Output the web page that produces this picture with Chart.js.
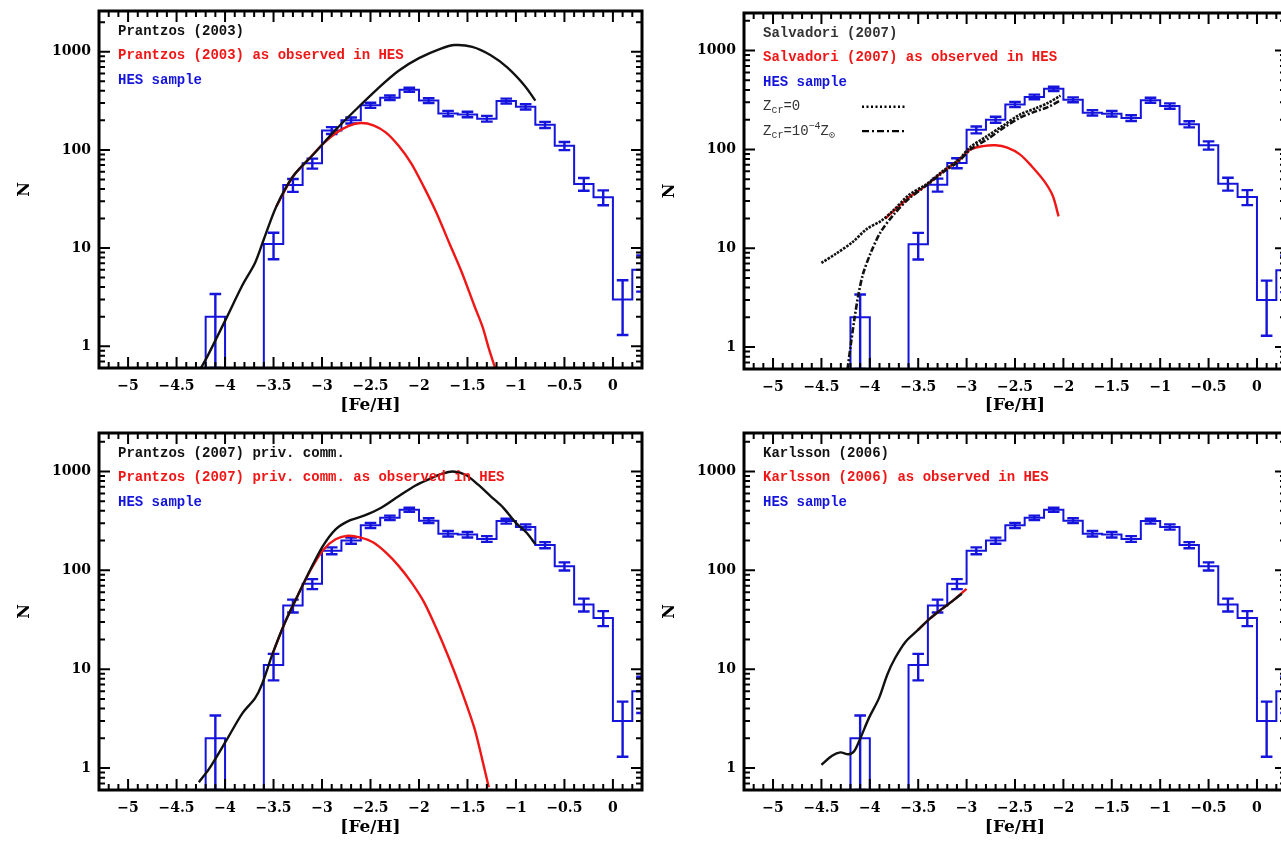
<!DOCTYPE html>
<html>
<head>
<meta charset="utf-8">
<title>HES MDF vs models</title>
<script src="https://cdn.jsdelivr.net/npm/chart.js"></script>
<style>
  html, body { margin: 0; padding: 0; background: #fff; overflow: hidden; }
  canvas { position: absolute; }
</style>
</head>
<body>
<canvas id="pTL" width="646" height="420" style="left:0px;top:0px"></canvas>
<canvas id="pTR" width="646" height="420" style="left:645px;top:0px"></canvas>
<canvas id="pBL" width="646" height="421" style="left:0px;top:420px"></canvas>
<canvas id="pBR" width="646" height="421" style="left:645px;top:420px"></canvas>
<script>
// ---- data ----
// HES sample, 0.2 dex bins (edges)
const hesEdges = [-4.2, -4.0, -3.8, -3.6, -3.4, -3.2, -3.0, -2.8, -2.6, -2.4, -2.2, -2.0,
                  -1.8, -1.6, -1.4, -1.2, -1.0, -0.8, -0.6, -0.4, -0.2, 0.0, 0.2, 0.4];
const hesCounts = [2, 0, 0, 11, 44, 73, 158, 200, 285, 340, 410, 318,
                   235, 230, 208, 315, 275, 180, 110, 45, 33, 3, 6];
const hesErr = [1.4, 0, 0, 3.3, 6.6, 8.5, 12.6, 14, 17, 18, 20, 18,
                15, 15, 14, 18, 17, 13, 10.5, 6.7, 5.7, 1.7, 2.4];

// Prantzos (2003)
const p03Fe = [-4.25, -4.19, -3.99, -3.82, -3.69, -3.60, -3.47, -3.30, -3.08, -2.86, -2.65,
               -2.43, -2.21, -2.00, -1.78, -1.63, -1.45, -1.26, -1.09, -0.91, -0.80];
const p03N = [0.6, 0.76, 1.9, 4.2, 7.1, 12.3, 26.7, 53.6, 92, 160, 258,
              417, 640, 860, 1070, 1170, 1120, 920, 692, 451, 318];
const p03ObsFe = [-3.47, -3.30, -3.15, -2.99, -2.86, -2.73, -2.60, -2.47, -2.34, -2.21,
                  -2.08, -1.95, -1.82, -1.69, -1.56, -1.43, -1.345, -1.28, -1.215];
const p03ObsN = [26.7, 53.6, 78, 115, 148, 175, 188, 178, 150, 110,
                 73, 42, 22.9, 11.4, 5.7, 2.6, 1.58, 0.95, 0.6];

// Salvadori (2007): Zcr = 0 and Zcr = 1e-4 Zsun
const s07zeroFe = [-4.50, -4.35, -4.18, -4.03, -3.88, -3.76, -3.59, -3.42, -3.25,
                   -3.08, -2.96, -2.79, -2.62, -2.45, -2.28, -2.16, -2.03];
const s07zeroN = [7.1, 8.8, 11.5, 15.7, 19, 24, 35, 44, 60,
                  79, 106, 136, 175, 225, 262, 295, 350];
const s07critFe = [-4.23, -4.20, -4.16, -4.12, -4.07, -3.99, -3.89, -3.76, -3.60, -3.42,
                   -3.25, -3.08, -2.96, -2.79, -2.62, -2.45, -2.28, -2.16, -2.04];
const s07critN = [0.6, 1.0, 1.9, 3.3, 5.5, 9, 14.5, 21.5, 31.5, 42.8,
                  58, 76, 100, 126, 165, 209, 244, 268, 310];
const s07ObsFe = [-3.84, -3.59, -3.42, -3.25, -3.08, -2.96, -2.83, -2.70, -2.58,
                  -2.45, -2.33, -2.20, -2.11, -2.05];
const s07ObsN = [20, 33, 43, 59, 78, 100, 108, 110, 104, 89, 68, 48, 34, 21];

// Prantzos (2007) priv. comm.
const p07Fe = [-4.27, -4.165, -3.99, -3.82, -3.69, -3.62, -3.515, -3.38, -3.25, -3.12, -2.99,
               -2.86, -2.73, -2.56, -2.39, -2.21, -2.04, -1.87, -1.76, -1.65, -1.52, -1.39,
               -1.26, -1.13, -1.00, -0.89, -0.80];
const p07N = [0.72, 0.98, 1.88, 3.6, 5.1, 7.0, 13.9, 30, 55.7, 102, 177,
              260, 315, 359, 429, 561, 718, 857, 950, 1000, 926, 735,
              561, 429, 302, 240, 184];
const p07ObsFe = [-3.515, -3.38, -3.25, -3.12, -2.99, -2.86, -2.73, -2.60, -2.47, -2.34,
                  -2.21, -2.08, -1.95, -1.82, -1.69, -1.56, -1.43, -1.345, -1.28];
const p07ObsN = [13.9, 30, 55.7, 100, 160, 206, 224, 214, 191, 151,
                 111, 76, 48, 25.8, 12.9, 6.0, 2.56, 1.19, 0.64];

// Karlsson (2006)
const k06Fe = [-4.50, -4.39, -4.305, -4.22, -4.16, -4.095, -4.01, -3.905, -3.82, -3.74,
               -3.63, -3.505, -3.38, -3.25, -3.125, -3.05];
const k06N = [1.08, 1.33, 1.44, 1.38, 1.49, 2.03, 3.2, 5.1, 8.8, 12.9,
              19, 24.8, 32.5, 41, 50.8, 58];
const k06ObsFe = [-3.505, -3.38, -3.25, -3.125, -3.00];
const k06ObsN = [24.8, 32.5, 41, 50.8, 65];

// axis ticks
const feTicks = [-5, -4.5, -4, -3.5, -3, -2.5, -2, -1.5, -1, -0.5, 0];
const nTicks = [1, 10, 100, 1000];

// ---- styles ----
const INK = '#111';
const RED = '#f01616';
const BLUE = '#1414dc';
const SERIF = '"DejaVu Serif", serif';
const MONO = '"Liberation Mono", monospace';
const FLOOR = 0.1; // empty bins sit below the axis

const legends = {
  pTL: [
    { color: INK, parts: [{ t: 'Prantzos (2003)' }] },
    { color: RED, parts: [{ t: 'Prantzos (2003) as observed in HES' }] },
    { color: BLUE, parts: [{ t: 'HES sample' }] },
  ],
  pTR: [
    { color: '#333', parts: [{ t: 'Salvadori (2007)' }] },
    { color: RED, parts: [{ t: 'Salvadori (2007) as observed in HES' }] },
    { color: BLUE, parts: [{ t: 'HES sample' }] },
    { color: '#333', light: true, dash: [2, 2.5],
      parts: [{ t: 'Z' }, { t: 'cr', sub: true }, { t: '=0' }] },
    { color: '#333', light: true, dash: [7, 3, 2, 3],
      parts: [{ t: 'Z' }, { t: 'cr', sub: true }, { t: '=10' }, { t: '\u22124', sup: true },
              { t: 'Z' }, { t: '\u2299', sub: true }] },
  ],
  pBL: [
    { color: INK, parts: [{ t: 'Prantzos (2007) priv. comm.' }] },
    { color: RED, parts: [{ t: 'Prantzos (2007) priv. comm. as observed in HES' }] },
    { color: BLUE, parts: [{ t: 'HES sample' }] },
  ],
  pBR: [
    { color: INK, parts: [{ t: 'Karlsson (2006)' }] },
    { color: RED, parts: [{ t: 'Karlsson (2006) as observed in HES' }] },
    { color: BLUE, parts: [{ t: 'HES sample' }] },
  ],
};

// box with inward major/minor ticks on all four sides
const pgFrame = {
  id: 'pgFrame',
  afterDatasetsDraw(chart) {
    const { ctx, chartArea: a, scales: { x, y } } = chart;
    ctx.save();
    ctx.strokeStyle = '#000';
    ctx.lineWidth = 2;
    ctx.beginPath();
    for (let k = Math.ceil(x.min * 10); k <= Math.floor(x.max * 10); k++) {
      const px = x.getPixelForValue(k / 10);
      const len = k % 5 === 0 ? 11 : 6;
      ctx.moveTo(px, a.bottom); ctx.lineTo(px, a.bottom - len);
      ctx.moveTo(px, a.top); ctx.lineTo(px, a.top + len);
    }
    const d0 = Math.floor(Math.log10(y.min)), d1 = Math.ceil(Math.log10(y.max));
    for (let d = d0; d <= d1; d++) {
      for (let m = 1; m < 10; m++) {
        const v = m * Math.pow(10, d);
        if (v < y.min || v > y.max) continue;
        const py = y.getPixelForValue(v);
        const len = m === 1 ? 11 : 6;
        ctx.moveTo(a.left, py); ctx.lineTo(a.left + len, py);
        ctx.moveTo(a.right, py); ctx.lineTo(a.right - len, py);
      }
    }
    ctx.stroke();
    ctx.lineWidth = 3;
    ctx.strokeRect(a.left, a.top, a.right - a.left, a.bottom - a.top);
    ctx.restore();
  }
};

// text legend in the upper left corner of each panel
const panelLegend = {
  id: 'panelLegend',
  afterDraw(chart) {
    const lines = legends[chart.canvas.id] || [];
    const { ctx, chartArea: a } = chart;
    ctx.save();
    ctx.textBaseline = 'middle';
    lines.forEach((line, i) => {
      let px = a.left + 19;
      const py = a.top + 20.5 + i * 24.4;
      const w = line.light ? 'normal' : 'bold';
      ctx.fillStyle = line.color;
      line.parts.forEach(p => {
        if (p.sub || p.sup) {
          ctx.font = w + ' 10px ' + MONO;
          ctx.fillText(p.t, px, py + (p.sub ? 4 : -5));
        } else {
          ctx.font = w + ' 14px ' + MONO;
          ctx.fillText(p.t, px, py);
        }
        px += ctx.measureText(p.t).width;
      });
      if (line.dash) {
        ctx.strokeStyle = '#000';
        ctx.lineWidth = 2.4;
        ctx.setLineDash(line.dash);
        ctx.beginPath();
        ctx.moveTo(a.left + 118, py);
        ctx.lineTo(a.left + 163, py);
        ctx.stroke();
        ctx.setLineDash([]);
      }
    });
    ctx.restore();
  }
};

function pts(xs, ys) {
  return xs.map((x, i) => ({ x: x, y: ys[i] }));
}

function histPoints() {
  const out = [{ x: hesEdges[0], y: FLOOR }];
  hesCounts.forEach((n, i) => {
    const v = n > 0 ? n : FLOOR;
    out.push({ x: hesEdges[i], y: v }, { x: hesEdges[i + 1], y: v });
  });
  out.push({ x: hesEdges[hesEdges.length - 1], y: FLOOR });
  return out;
}

function errPoints() {
  const out = [];
  const w = 0.06;
  hesCounts.forEach((n, i) => {
    if (!n) return;
    const c = (hesEdges[i] + hesEdges[i + 1]) / 2;
    const lo = n - hesErr[i], hi = n + hesErr[i];
    out.push({ x: c, y: lo }, { x: c, y: hi }, { x: c, y: null },
             { x: c - w, y: hi }, { x: c + w, y: hi }, { x: c, y: null },
             { x: c - w, y: lo }, { x: c + w, y: lo }, { x: c, y: null });
  });
  return out;
}

function curve(data, color, dash, width) {
  return {
    data: data, borderColor: color, borderWidth: width || 2.4, borderDash: dash || [],
    pointRadius: 0, tension: 0.3, fill: false
  };
}

function makePanel(id, geo, models) {
  const hist = { data: histPoints(), borderColor: BLUE, borderWidth: 2, pointRadius: 0, tension: 0 };
  const errs = { data: errPoints(), borderColor: BLUE, borderWidth: 2.4, pointRadius: 0, tension: 0 };
  new Chart(document.getElementById(id), {
    type: 'line',
    data: { datasets: models.concat([hist, errs]) },
    options: {
      responsive: false,
      animation: false,
      devicePixelRatio: 1,
      layout: { padding: { top: geo.padTop, right: geo.padRight, left: 0, bottom: 0 } },
      plugins: { legend: { display: false }, tooltip: { enabled: false } },
      scales: {
        x: {
          type: 'linear', min: -5.3, max: 0.3,
          grid: { display: false, drawTicks: false }, border: { display: false },
          afterBuildTicks: s => { s.ticks = feTicks.map(v => ({ value: v })); },
          afterFit: s => { s.height = geo.xAxisH; s.paddingLeft = 0; s.paddingRight = 0; },
          ticks: {
            autoSkip: false, maxRotation: 0, padding: 10, color: '#000',
            font: { family: SERIF, size: 14, weight: 'bold' },
            callback: v => (v < 0 ? '\u2212' + Math.abs(v) : String(v))
          },
          title: {
            display: true, text: '[Fe/H]', color: '#000',
            font: { family: SERIF, size: 17, weight: 'bold' },
            padding: { top: 0, bottom: geo.titleBottom }
          }
        },
        y: {
          type: 'logarithmic', min: 0.63, max: geo.nMax,
          grid: { display: false, drawTicks: false }, border: { display: false },
          afterBuildTicks: s => { s.ticks = nTicks.map(v => ({ value: v })); },
          afterFit: s => { s.width = 99; s.paddingTop = 0; s.paddingBottom = 0; },
          ticks: {
            padding: 8, color: '#000',
            font: { family: SERIF, size: 14, weight: 'bold' },
            callback: v => String(v)
          },
          title: {
            display: true, text: 'N', color: '#000',
            font: { family: SERIF, size: 16, weight: 'bold' },
            padding: { top: 15, bottom: 0 }
          }
        }
      }
    },
    plugins: [pgFrame, panelLegend]
  });
}

makePanel('pTL', { padTop: 11, padRight: 4, xAxisH: 52, nMax: 2600, titleBottom: 4 }, [
  curve(pts(p03Fe, p03N), INK),
  curve(pts(p03ObsFe, p03ObsN), RED),
]);
makePanel('pTR', { padTop: 13, padRight: 5, xAxisH: 51, nMax: 2400, titleBottom: 4 }, [
  curve(pts(s07zeroFe, s07zeroN), INK, [2.5, 1.2], 2.6),
  curve(pts(s07critFe, s07critN), INK, [6, 2, 2, 2], 2.6),
  curve(pts(s07ObsFe, s07ObsN), RED),
]);
makePanel('pBL', { padTop: 13, padRight: 4, xAxisH: 51, nMax: 2450, titleBottom: 3 }, [
  curve(pts(p07Fe, p07N), INK),
  curve(pts(p07ObsFe, p07ObsN), RED),
]);
makePanel('pBR', { padTop: 13, padRight: 5, xAxisH: 51, nMax: 2450, titleBottom: 3 }, [
  curve(pts(k06Fe, k06N), INK),
  curve(pts(k06ObsFe, k06ObsN), RED),
]);
</script>
</body>
</html>
